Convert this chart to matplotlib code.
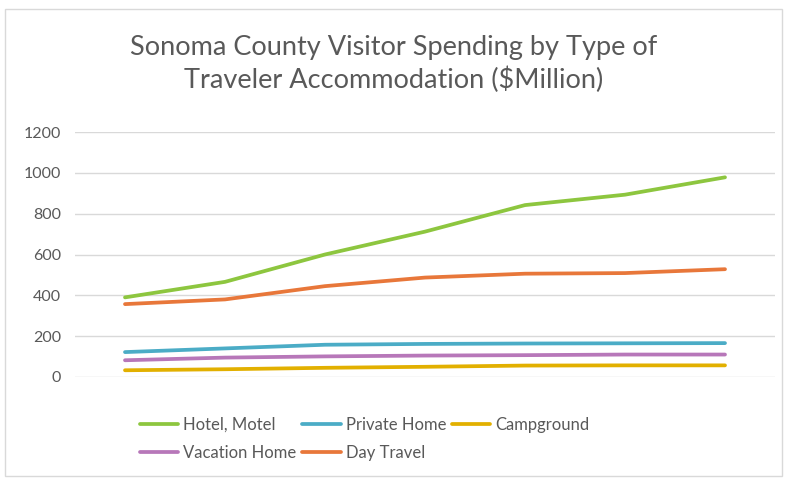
import numpy as np
import matplotlib.pyplot as plt
from matplotlib.patches import Rectangle

years = np.arange(7)
hotel_motel = [390, 466, 600, 712, 842, 893, 978]
private_home = [122, 140, 158, 162, 164, 165, 166]
campground = [33, 38, 45, 50, 56, 57, 57]
vacation_home = [82, 95, 101, 105, 107, 110, 110]
day_travel = [357, 380, 445, 487, 506, 509, 528]

title = "Sonoma County Visitor Spending by Type of\nTraveler Accommodation ($Million)"
text_color = '#595959'

plt.rcParams['font.family'] = ['Lato', 'DejaVu Sans']

fig = plt.figure(figsize=(7.88, 4.79), dpi=100)
ax = fig.add_axes([75/788, 1 - 377/479, 700/788, 245/479])

lw = 2.7
ax.plot(years, hotel_motel, color='#8DC63F', lw=lw, label='Hotel, Motel', solid_capstyle='round')
ax.plot(years, private_home, color='#4BACC6', lw=lw, label='Private Home', solid_capstyle='round')
ax.plot(years, campground, color='#E2B000', lw=lw, label='Campground', solid_capstyle='round')
ax.plot(years, vacation_home, color='#B777B9', lw=lw, label='Vacation Home', solid_capstyle='round')
ax.plot(years, day_travel, color='#E8773A', lw=lw, label='Day Travel', solid_capstyle='round')

ax.set_xlim(-0.5, 6.5)
ax.set_ylim(0, 1200)
ax.set_yticks(np.arange(0, 1201, 200))
ax.set_xticks([])
ax.grid(axis='y', color='#D9D9D9', lw=1)
ax.set_axisbelow(True)
for s in ax.spines.values():
    s.set_visible(False)
ax.tick_params(axis='y', length=0, labelsize=11.5, labelcolor=text_color, pad=10)

fig.text(0.5, 1 - 64/479, title, ha='center', va='center', fontsize=19.5,
         color=text_color, linespacing=1.3)

h, l = ax.get_legend_handles_labels()
order = [0, 3, 1, 4, 2]
fig.legend([h[i] for i in order], [l[i] for i in order], ncol=3,
           loc='upper left', bbox_to_anchor=(125/788, 1 - 402/479),
           frameon=False, fontsize=12, labelcolor=text_color,
           handlelength=2.3, handletextpad=0.3, columnspacing=0.35,
           labelspacing=0.72)

fig.patches.append(Rectangle((5/788, 3/479), 777/788, 467/479, transform=fig.transFigure,
                             fill=False, edgecolor='#D9D9D9', lw=1))

fig.savefig('out.png', dpi=100)
